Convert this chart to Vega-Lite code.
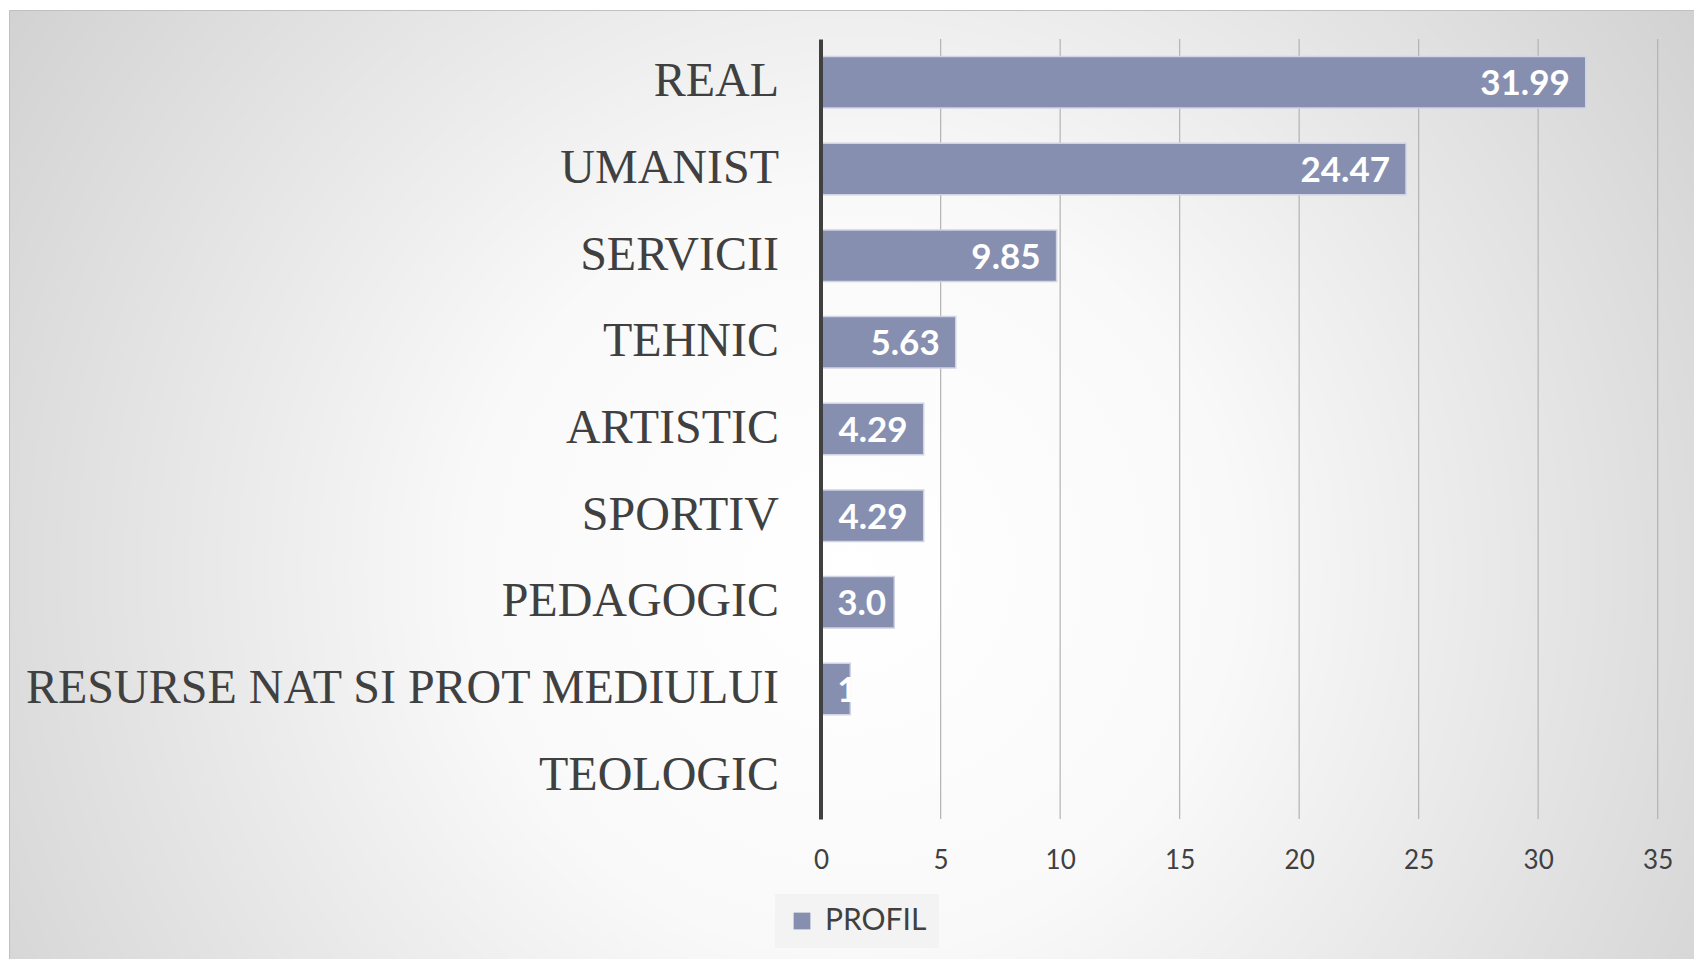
{
  "$schema": "https://vega.github.io/schema/vega-lite/v6.json",
  "width": 1685,
  "height": 949,
  "autosize": {"type": "none"},
  "padding": {"left": 9, "top": 10, "right": 0, "bottom": 0},
  "background": "#ffffff",
  "view": {
    "fill": {
      "gradient": "radial",
      "x1": 0.5, "y1": 0.55, "r1": 0,
      "x2": 0.5, "y2": 0.55, "r2": 0.75,
      "stops": [
        {"offset": 0, "color": "#ffffff"},
        {"offset": 0.3, "color": "#f9f9f9"},
        {"offset": 1, "color": "#c2c2c2"}
      ]
    },
    "stroke": "#c0c0c0",
    "strokeWidth": 1
  },
  "layer": [
    {
      "data": {"values": [{"tick": 5}, {"tick": 10}, {"tick": 15}, {"tick": 20}, {"tick": 25}, {"tick": 30}, {"tick": 35}]},
      "mark": {"type": "rule", "color": "#b3b3b3", "strokeWidth": 1.2},
      "encoding": {
        "x": {"field": "tick", "type": "quantitative", "scale": {"domain": [-33.98, 36.52], "nice": false, "zero": false}},
        "y": {"datum": 0, "type": "quantitative", "scale": {"domain": [0, 1], "range": [29, 809]}, "axis": null},
        "y2": {"datum": 1}
      }
    },
    {
      "data": {
        "values": [
          {"profil": "REAL", "value": 31.99, "series": "PROFIL"},
          {"profil": "UMANIST", "value": 24.47, "series": "PROFIL"},
          {"profil": "SERVICII", "value": 9.85, "series": "PROFIL"},
          {"profil": "TEHNIC", "value": 5.63, "series": "PROFIL"},
          {"profil": "ARTISTIC", "value": 4.29, "series": "PROFIL"},
          {"profil": "SPORTIV", "value": 4.29, "series": "PROFIL"},
          {"profil": "PEDAGOGIC", "value": 3.06, "series": "PROFIL"},
          {"profil": "RESURSE NAT SI PROT MEDIULUI", "value": 1.22, "series": "PROFIL"},
          {"profil": "TEOLOGIC", "value": 0, "series": "PROFIL"}
        ]
      },
      "encoding": {
        "y": {
          "field": "profil",
          "type": "nominal",
          "sort": null,
          "scale": {"range": [29, 809], "paddingInner": 0.405, "paddingOuter": 0.2025},
          "axis": {
            "orient": "left",
            "offset": -811.5,
            "title": null,
            "domain": true,
            "domainColor": "#404040",
            "domainWidth": 4,
            "ticks": false,
            "tickSize": 0,
            "grid": false,
            "labelPadding": 42,
            "labelFont": "Liberation Serif",
            "labelFontSize": 48,
            "labelColor": "#404040",
            "labelLimit": 0,
            "labelBaseline": "middle",
            "zindex": 1
          }
        }
      },
      "layer": [
        {
          "mark": {"type": "bar", "stroke": "#cfd3e4", "strokeWidth": 1.5},
          "encoding": {
            "x": {
              "field": "value",
              "type": "quantitative",
              "scale": {"domain": [-33.98, 36.52], "nice": false, "zero": false},
              "axis": {
                "orient": "bottom",
                "offset": -140,
                "values": [0, 5, 10, 15, 20, 25, 30, 35],
                "title": null,
                "grid": false,
                "domain": false,
                "ticks": false,
                "tickSize": 0,
                "labelPadding": 41,
                "labelBaseline": "middle",
                "labelFont": "Lato",
                "labelFontSize": 26,
                "labelColor": "#404040",
                "labelFlush": false,
                "labelOverlap": false
              }
            },
            "x2": {"datum": 0},
            "color": {
              "field": "series",
              "type": "nominal",
              "scale": {"range": ["#868fb0"]},
              "legend": {
                "title": null,
                "orient": "none",
                "legendX": 766,
                "legendY": 884,
                "symbolType": "square",
                "symbolSize": 280,
                "symbolStrokeWidth": 0,
                "labelFont": "Lato",
                "labelFontSize": 30,
                "labelColor": "#404040",
                "labelOffset": 8,
                "fillColor": "#f3f3f3",
                "padding": 12
              }
            }
          }
        },
        {
          "transform": [{"filter": "datum.value >= 4"}],
          "mark": {"type": "text", "align": "right", "baseline": "middle", "dx": -16, "dy": 2, "font": "Lato", "fontWeight": "bold", "fontSize": 35, "color": "#ffffff"},
          "encoding": {
            "x": {"field": "value", "type": "quantitative"},
            "text": {"field": "value", "type": "quantitative", "format": ".2f"}
          }
        },
        {
          "transform": [{"filter": "datum.value < 4 && datum.value > 2"}],
          "mark": {"type": "text", "align": "left", "baseline": "middle", "dx": 16, "dy": 2, "limit": 57, "ellipsis": "\u200b", "font": "Lato", "fontWeight": "bold", "fontSize": 35, "color": "#ffffff"},
          "encoding": {
            "x": {"datum": 0},
            "text": {"field": "value", "type": "quantitative", "format": ".2f"}
          }
        },
        {
          "transform": [{"filter": "datum.value < 2 && datum.value > 0"}],
          "mark": {"type": "text", "align": "left", "baseline": "middle", "dx": 16, "dy": 2, "limit": 24, "ellipsis": "\u200b", "font": "Lato", "fontWeight": "bold", "fontSize": 35, "color": "#ffffff"},
          "encoding": {
            "x": {"datum": 0},
            "text": {"field": "value", "type": "quantitative", "format": ".2f"}
          }
        }
      ]
    }
  ],
  "resolve": {"scale": {"y": "independent"}, "axis": {"y": "independent"}}
}
